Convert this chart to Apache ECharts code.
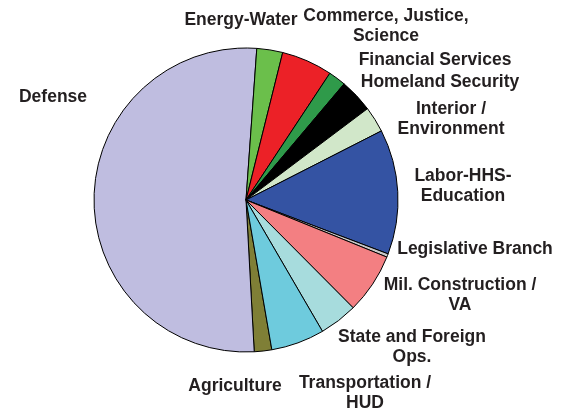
<!DOCTYPE html>
<html>
<head>
<meta charset="utf-8">
<script src="https://cdn.jsdelivr.net/npm/echarts@6/dist/echarts.min.js"></script>
<style>
  html, body { margin: 0; padding: 0; background: #fff; }
  #chart { width: 565px; height: 415px; }
</style>
</head>
<body>
<div id="chart"></div>
<script>
// Appropriations subcommittees, in clockwise order from Agriculture
const categories = [
  'Agriculture', 'Defense', 'Energy-Water', 'Commerce, Justice,\nScience',
  'Financial Services', 'Homeland Security', 'Interior /\nEnvironment',
  'Labor-HHS-\nEducation', 'Legislative Branch', 'Mil. Construction /\nVA',
  'State and Foreign\nOps.', 'Transportation /\nHUD'
];
// Share of total (percent)
const shares = [1.86, 52.0, 2.75, 5.42, 1.86, 3.58, 2.75, 13.28, 0.36, 6.42, 4.06, 5.67];

const colors = [
  '#7f7f36', '#bfbde0', '#6bbf4b', '#ec2127', '#2f9a4a', '#000000',
  '#d1e7c9', '#3453a3', '#c9c9c9', '#f37f82', '#a7dcdd', '#6ecbdd'
];
// Label anchor points (center of each text block)
const labelAnchors = [
  [235, 386], [53, 97], [241, 20], [386, 26], [435, 60], [440, 82],
  [451, 119], [463, 186], [475, 249], [460, 295], [412, 347], [365, 393]
];

const chart = echarts.init(document.getElementById('chart'), null, { renderer: 'canvas' });
chart.setOption({
  animation: false,
  series: [{
    type: 'pie',
    center: [246, 200],
    radius: 152,
    startAngle: -80.2,
    clockwise: true,
    avoidLabelOverlap: false,
    data: categories.map((c, i) => ({ name: c, value: shares[i], itemStyle: { color: colors[i] } })),
    itemStyle: { borderColor: '#000', borderWidth: 1 },
    label: {
      show: true,
      formatter: '{b}',
      fontFamily: 'Liberation Sans, Arial, sans-serif',
      fontWeight: 'bold',
      fontSize: 17.5,
      lineHeight: 19.5,
      color: '#231f20',
      align: 'center'
    },
    labelLine: { show: false },
    labelLayout: function (p) {
      const a = labelAnchors[p.dataIndex];
      return { x: a[0], y: a[1], align: 'center', verticalAlign: 'middle', hideOverlap: false };
    },
    emphasis: { disabled: true }
  }]
});
</script>
</body>
</html>
